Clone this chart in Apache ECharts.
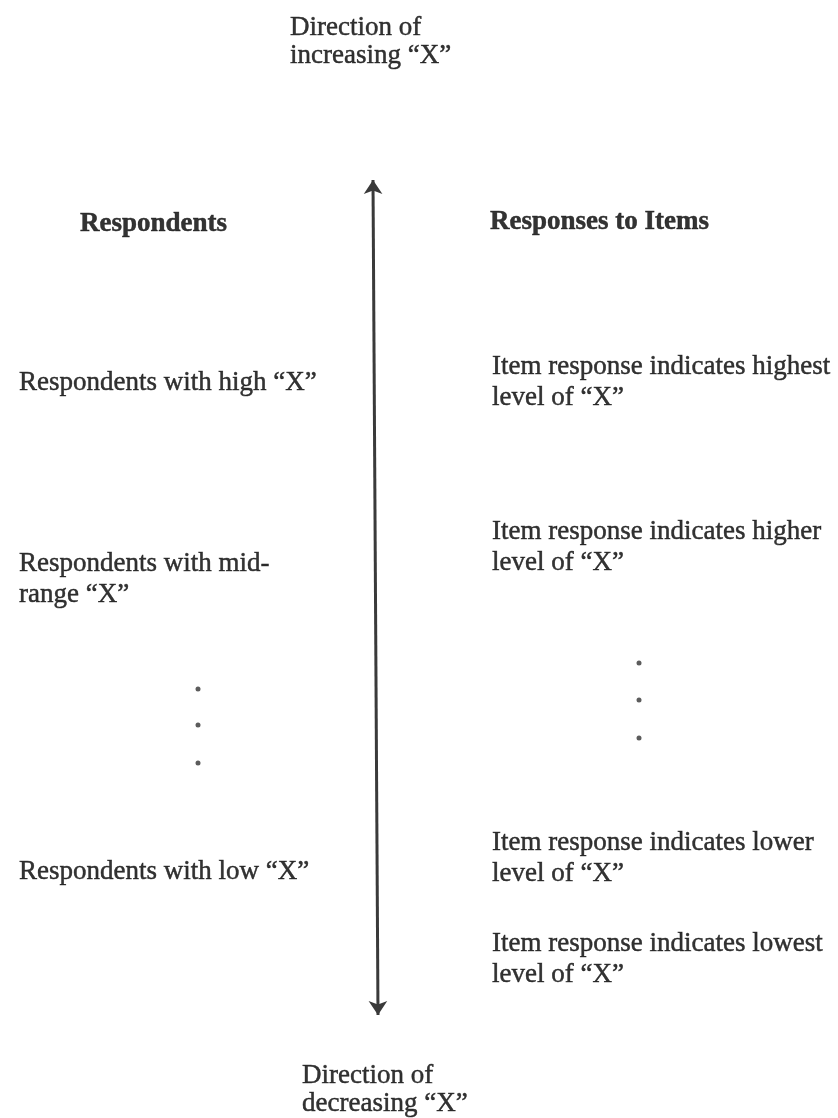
<!DOCTYPE html>
<html>
<head>
<meta charset="utf-8">
<script src="https://cdn.jsdelivr.net/npm/echarts@6/dist/echarts.min.js"></script>
<style>html,body{margin:0;padding:0;background:#fff;}#c{width:838px;height:1118px;}</style>
</head>
<body>
<div id="c"></div>
<script>
// Diagram content (positions along the diagram's page scale)
const titleTop = 'Direction of\nincreasing “X”';
const titleBottom = 'Direction of\ndecreasing “X”';
const headerLeft = 'Respondents';
const headerRight = 'Responses to Items';
const respondentLabels = ['Respondents with high “X”', 'Respondents with mid-\nrange “X”', 'Respondents with low “X”'];
const respondentLevels = [383, 579, 872];
const itemLabels = ['Item response indicates highest\nlevel of “X”', 'Item response indicates higher\nlevel of “X”', 'Item response indicates lower\nlevel of “X”', 'Item response indicates lowest\nlevel of “X”'];
const itemLevels = [382, 547, 858, 959];
const leftDotLevels = [689, 725, 763];
const rightDotLevels = [663, 700, 738];
const arrowEnds = [[373, 180], [378, 1015]];

const FONT = '"Liberation Serif", "Times New Roman", serif';
const FS = 27;
const TXT = '#000000';

function textSeries(items, bold, lh) {
  return {
    type: 'scatter', symbolSize: 0, silent: true,
    data: items.map(it => ({ value: [it[0], it[1]], name: it[2] })),
    label: {
      show: true, position: 'right', distance: 0,
      formatter: p => p.name,
      fontFamily: FONT, fontSize: FS, lineHeight: lh, color: TXT,
      textBorderColor: '#222', textBorderWidth: 0.5,
      fontWeight: bold ? 'bold' : 'normal', align: 'left', verticalAlign: 'middle'
    }
  };
}

const chart = echarts.init(document.getElementById('c'));
chart.setOption({
  backgroundColor: '#ffffff',
  animation: false,
  grid: { left: 0, right: 0, top: 0, bottom: 0 },
  xAxis: { type: 'value', min: 0, max: 838, show: false },
  yAxis: { type: 'value', min: 0, max: 1118, inverse: true, show: false },
  series: [
    textSeries([[290, 42, titleTop], [302, 1090, titleBottom]], false, 28),
    textSeries([[80, 224, headerLeft], [490, 222, headerRight]], true, 31),
    textSeries(respondentLabels.map((t, i) => [19, respondentLevels[i], t]), false, 31),
    textSeries(itemLabels.map((t, i) => [492, itemLevels[i], t]), false, 31),
    {
      type: 'scatter', silent: true, symbol: 'circle', symbolSize: 5,
      itemStyle: { color: '#333' },
      data: leftDotLevels.map(v => [198, v]).concat(rightDotLevels.map(v => [639, v]))
    },
    {
      type: 'lines', coordinateSystem: 'cartesian2d', silent: true,
      symbol: ['arrow', 'arrow'], symbolSize: 14,
      lineStyle: { color: '#3a3a3a', width: 3, opacity: 1 },
      data: [{ coords: arrowEnds }]
    }
  ]
});
</script>
</body>
</html>
